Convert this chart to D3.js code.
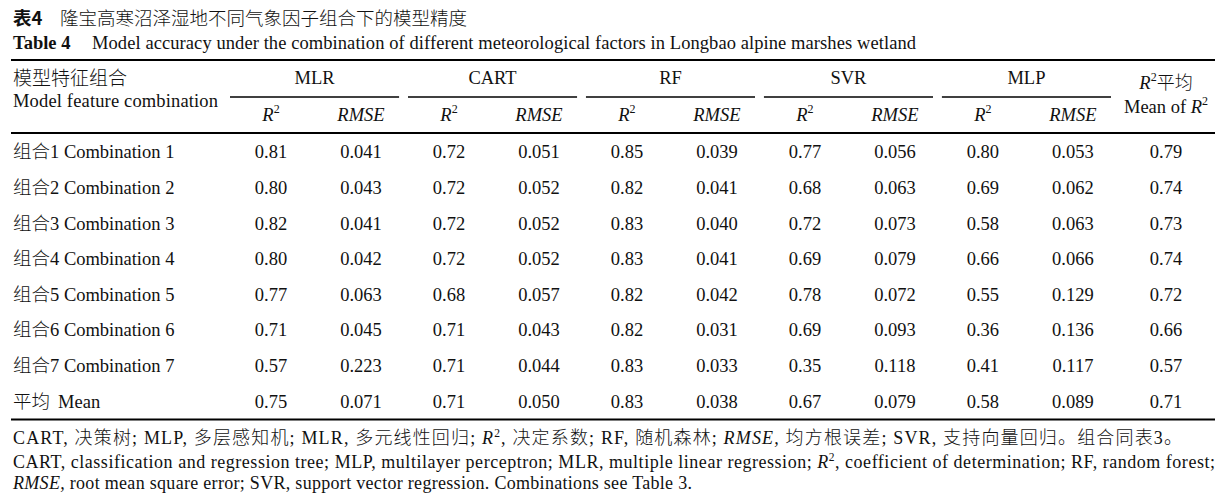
<!DOCTYPE html>
<html><head><meta charset="utf-8">
<script src="https://cdn.jsdelivr.net/npm/d3@7"></script>
<style>
html,body{margin:0;padding:0;background:#fff;}
svg{display:block;}
text{font-family:"Liberation Serif","Times New Roman","Noto Sans CJK SC",serif;fill:#111;}
</style></head>
<body><svg id="c" width="1225" height="499"></svg>
<script>
// ---- data ----
const models = ["MLR","CART","RF","SVR","MLP"];
const metrics = ["R2","RMSE"];
const rowLabelsCN = ["组合1","组合2","组合3","组合4","组合5","组合6","组合7","平均"];
const rowLabelsEN = ["Combination 1","Combination 2","Combination 3","Combination 4","Combination 5","Combination 6","Combination 7","Mean"];
const mlrR2   = ["0.81","0.80","0.82","0.80","0.77","0.71","0.57","0.75"];
const mlrRMSE = ["0.041","0.043","0.041","0.042","0.063","0.045","0.223","0.071"];
const cartR2   = ["0.72","0.72","0.72","0.72","0.68","0.71","0.71","0.71"];
const cartRMSE = ["0.051","0.052","0.052","0.052","0.057","0.043","0.044","0.050"];
const rfR2   = ["0.85","0.82","0.83","0.83","0.82","0.82","0.83","0.83"];
const rfRMSE = ["0.039","0.041","0.040","0.041","0.042","0.031","0.033","0.038"];
const svrR2   = ["0.77","0.68","0.72","0.69","0.78","0.69","0.35","0.67"];
const svrRMSE = ["0.056","0.063","0.073","0.079","0.072","0.093","0.118","0.079"];
const mlpR2   = ["0.80","0.69","0.58","0.66","0.55","0.36","0.41","0.58"];
const mlpRMSE = ["0.053","0.062","0.063","0.066","0.129","0.136","0.117","0.089"];
const meanR2  = ["0.79","0.74","0.73","0.74","0.72","0.66","0.57","0.71"];

const series = {
  MLR:{R2:mlrR2,RMSE:mlrRMSE}, CART:{R2:cartR2,RMSE:cartRMSE}, RF:{R2:rfR2,RMSE:rfRMSE},
  SVR:{R2:svrR2,RMSE:svrRMSE}, MLP:{R2:mlpR2,RMSE:mlpRMSE}
};

// ---- layout ----
const svg = d3.select("#c");
const left = 11, right = 1215;
const fs = 18.5;
const cnFont = "'Noto Sans CJK SC','Liberation Serif',sans-serif";

const gx = d3.scaleBand().domain(models).range([230, 1111]).paddingInner(0.05).paddingOuter(0);
const mx = d3.scalePoint().domain(metrics).range([41, 131]);
const meanX = 1166;
const y = d3.scaleBand().domain(rowLabelsEN).range([134, 419]);

// title
const t1 = svg.append("text").attr("x", 13).attr("y", 25).attr("font-size", 18.5);
t1.append("tspan").attr("font-weight", "bold").style("font-family", cnFont).text("表4");
t1.append("tspan").attr("x", 60).style("font-family", cnFont).style("font-weight","300").text("隆宝高寒沼泽湿地不同气象因子组合下的模型精度");
svg.append("text").attr("x", 13).attr("y", 49).attr("font-size", 18.5).attr("font-weight", "bold").text("Table 4");
svg.append("text").attr("x", 92).attr("y", 49).attr("font-size", 18.5)
  .attr("textLength", 824).attr("lengthAdjust", "spacing")
  .text("Model accuracy under the combination of different meteorological factors in Longbao alpine marshes wetland");

// rules
function rule(x1, x2, yy, w) {
  svg.append("line").attr("x1", x1).attr("x2", x2).attr("y1", yy).attr("y2", yy)
    .attr("stroke", "#000").attr("stroke-width", w);
}
rule(left, right, 60, 2);
rule(left, right, 133, 2);
rule(left, right, 419.5, 2);
models.forEach(m => rule(gx(m), gx(m) + gx.bandwidth(), 97, 1.5));

// header
svg.append("text").attr("x", 13).attr("y", 85).attr("font-size", 19).style("font-family", cnFont).style("font-weight","300").text("模型特征组合");
svg.append("text").attr("x", 13).attr("y", 107).attr("font-size", fs)
  .attr("textLength", 205).attr("lengthAdjust", "spacing").text("Model feature combination");

models.forEach(m => {
  svg.append("text").attr("x", gx(m) + gx.bandwidth() / 2).attr("y", 84).attr("text-anchor", "middle")
    .attr("font-size", fs).text(m);
  metrics.forEach(k => {
    const tx = svg.append("text").attr("x", gx(m) + mx(k)).attr("y", 121).attr("text-anchor", "middle")
      .attr("font-size", fs).attr("font-style", "italic");
    if (k === "R2") {
      tx.append("tspan").text("R");
      tx.append("tspan").attr("dy", -8).attr("font-size", 12).attr("font-style", "normal").text("2");
    } else tx.text(k);
  });
});
const mh = svg.append("text").attr("x", meanX).attr("y", 89).attr("text-anchor", "middle").attr("font-size", fs);
mh.append("tspan").attr("font-style", "italic").text("R");
mh.append("tspan").attr("dy", -8).attr("font-size", 12).text("2");
mh.append("tspan").attr("dy", 8).style("font-family", cnFont).style("font-weight","300").attr("font-size", 18).text("平均");
const mh2 = svg.append("text").attr("x", meanX).attr("y", 113).attr("text-anchor", "middle").attr("font-size", fs);
mh2.append("tspan").text("Mean of ");
mh2.append("tspan").attr("font-style", "italic").text("R");
mh2.append("tspan").attr("dy", -8).attr("font-size", 12).text("2");

// body rows
rowLabelsEN.forEach((en, i) => {
  const cy = y(en) + y.bandwidth() / 2 + 6.5;
  const lt = svg.append("text").attr("x", 13).attr("y", cy).attr("font-size", fs);
  const cn = rowLabelsCN[i];
  const m = cn.match(/^(\D+)(\d*)$/);
  lt.append("tspan").style("font-family", cnFont).style("font-weight","300").attr("font-size", 18.5).text(m[1]);
  if (m[2]) lt.append("tspan").text(m[2] + " " + en);
  else lt.append("tspan").attr("dx", 8).text(en);
  models.forEach(mo => metrics.forEach(k => {
    svg.append("text").attr("x", gx(mo) + mx(k)).attr("y", cy).attr("text-anchor", "middle")
      .attr("font-size", fs).text(series[mo][k][i]);
  }));
  svg.append("text").attr("x", meanX).attr("y", cy).attr("text-anchor", "middle").attr("font-size", fs).text(meanR2[i]);
});

// footnotes
const ffs = 18;
function seg(t, parts) {
  parts.forEach(p => {
    const s = t.append("tspan").text(p.t);
    if (p.i) s.attr("font-style", "italic");
    if (p.cn) s.style("font-family", cnFont).style("font-weight","300");
    if (p.sup) s.attr("dy", -7).attr("font-size", 11.5);
    if (p.down) s.attr("dy", 7);
  });
}
const f1 = svg.append("text").attr("x", 13).attr("y", 444).attr("font-size", ffs)
  .attr("textLength", 1169).attr("lengthAdjust", "spacing");
seg(f1, [
  {t:"CART,  "},{t:"决策树",cn:1},{t:"; MLP,  "},{t:"多层感知机",cn:1},{t:"; MLR,  "},{t:"多元线性回归",cn:1},
  {t:"; "},{t:"R",i:1},{t:"2",sup:1},{t:",  ",down:1},{t:"决定系数",cn:1},{t:"; RF,  "},{t:"随机森林",cn:1},{t:"; "},
  {t:"RMSE,",i:1},{t:"  "},{t:"均方根误差",cn:1},{t:"; SVR,  "},{t:"支持向量回归。组合同表",cn:1},{t:"3"},{t:"。",cn:1}
]);
const f2 = svg.append("text").attr("x", 13).attr("y", 468).attr("font-size", ffs)
  .attr("textLength", 1202).attr("lengthAdjust", "spacing");
seg(f2, [
  {t:"CART, classification and regression tree; MLP, multilayer perceptron; MLR, multiple linear regression; "},
  {t:"R",i:1},{t:"2",sup:1},{t:", coefficient of determination; RF, random forest;",down:1}
]);
const f3 = svg.append("text").attr("x", 13).attr("y", 489).attr("font-size", ffs)
  .attr("textLength", 679).attr("lengthAdjust", "spacing");
seg(f3, [{t:"RMSE,",i:1},{t:" root mean square error; SVR, support vector regression. Combinations see Table 3."}]);
</script></body></html>
